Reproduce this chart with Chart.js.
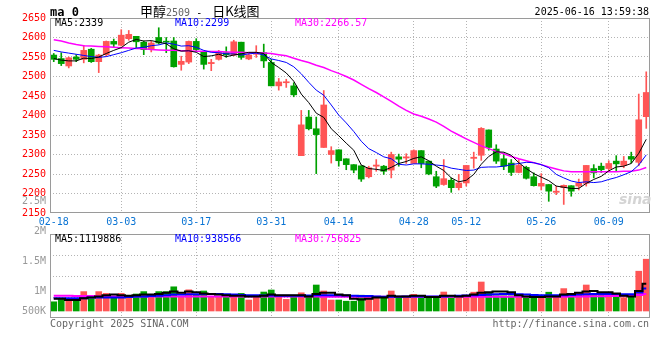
<!DOCTYPE html>
<html><head><meta charset="utf-8">
<script src="https://cdn.jsdelivr.net/npm/chart.js@4.4.1/dist/chart.umd.min.js"></script>
<style>
html,body{margin:0;padding:0;background:#fff;}
#wrap{position:relative;width:660px;height:360px;overflow:hidden;background:#fff;}
canvas{position:absolute;left:0;top:0;}
.t{position:absolute;white-space:nowrap;font:10px "DejaVu Sans Mono",monospace;line-height:12px;color:#000;}
.cjk{font-family:"Noto Sans CJK SC",sans-serif;font-size:13px;}
</style></head><body>
<div id="wrap">
<canvas id="vol" width="660" height="360"></canvas>
<canvas id="price" width="660" height="232"></canvas>
<div class="t" style="left:50px;top:5px;font-weight:bold;font-size:12px;line-height:14px">ma 0</div>
<div class="t" style="left:140px;top:2px;line-height:17px"><span class="cjk">甲醇</span><span style="color:#666">2509</span><span> - </span><span class="cjk" style="margin-left:4px">日K线图</span></div>
<div class="t" style="right:11px;top:6px">2025-06-16 13:59:38</div>
<div class="t" id="pma5" style="left:55px;top:17px;color:#000"></div>
<div class="t" id="pma10" style="left:175px;top:17px;color:#0000ff"></div>
<div class="t" id="pma30" style="left:295px;top:17px;color:#ff00ff"></div>
<div class="t" id="vma5" style="left:55px;top:233px;color:#000"></div>
<div class="t" id="vma10" style="left:175px;top:233px;color:#0000ff"></div>
<div class="t" id="vma30" style="left:295px;top:233px;color:#ff00ff"></div>
<div class="t" style="left:619px;top:191px;font:italic bold 14px 'DejaVu Sans',sans-serif;color:#d4d4d4">sina</div>
<div class="t" style="left:50px;top:318px;color:#666">Copyright 2025 SINA.COM</div>
<div class="t" style="right:11px;top:318px;color:#666">http://finance.sina.com.cn</div>
</div>
<script>
const dates = ['02-18','02-19','02-20','02-21','02-24','02-25','02-26','02-27','02-28',
'03-03','03-04','03-05','03-06','03-07','03-10','03-11','03-12','03-13','03-14','03-17','03-18','03-19','03-20','03-21','03-24','03-25','03-26','03-27','03-28','03-31',
'04-01','04-02','04-03','04-07','04-08','04-09','04-10','04-11','04-14','04-15','04-16','04-17','04-18','04-21','04-22','04-23','04-24','04-25','04-28','04-29','04-30',
'05-06','05-07','05-08','05-09','05-12','05-13','05-14','05-15','05-16','05-19','05-20','05-21','05-22','05-23','05-26','05-27','05-28','05-29','05-30',
'06-03','06-04','06-05','06-06','06-09','06-10','06-11','06-12','06-13','06-16'];
const opens = [2555,2546,2527,2550,2544,2570,2538,2556,2590,2580,2597,2603,2588,2569,2600,2589,2591,2531,2537,2590,
2562,2533,2544,2561,2555,2588,2545,2557,2561,2536,2476,2484,2476,2297,2396,2366,2318,2300,2312,2289,
2274,2271,2243,2270,2270,2260,2294,2291,2277,2310,2283,2243,2223,2234,2215,2227,2290,2298,2363,2314,
2289,2278,2254,2267,2243,2219,2223,2203,2215,2220,2219,2226,2264,2270,2264,2283,2272,2295,2280,2397];
const highs = [2559,2561,2550,2556,2580,2572,2557,2591,2596,2620,2618,2603,2591,2591,2625,2600,2600,2552,2591,2597,
2562,2544,2567,2576,2593,2588,2562,2579,2583,2544,2495,2493,2484,2413,2413,2396,2464,2320,2312,2289,
2274,2271,2270,2287,2272,2306,2301,2302,2312,2310,2283,2257,2287,2240,2249,2272,2306,2369,2363,2325,
2304,2287,2287,2270,2253,2251,2223,2219,2222,2220,2237,2272,2274,2278,2284,2297,2295,2306,2455,2512];
const lows = [2538,2528,2522,2538,2535,2536,2510,2552,2576,2578,2593,2574,2556,2563,2583,2561,2524,2516,2533,2565,
2519,2515,2542,2549,2553,2544,2543,2549,2523,2476,2465,2472,2448,2297,2363,2251,2318,2278,2270,2261,
2253,2231,2240,2257,2249,2240,2270,2277,2277,2266,2248,2215,2221,2203,2209,2219,2265,2285,2311,2277,
2261,2246,2253,2237,2219,2209,2180,2197,2172,2193,2209,2219,2240,2254,2257,2257,2266,2278,2271,2367];
const closes = [2544,2533,2548,2544,2567,2538,2555,2590,2583,2606,2608,2589,2569,2586,2586,2588,2525,2539,2590,2569,
2531,2536,2561,2556,2589,2549,2555,2560,2540,2476,2486,2485,2453,2376,2366,2351,2427,2310,2284,2274,
2260,2237,2266,2273,2257,2300,2288,2294,2310,2277,2250,2219,2238,2215,2227,2272,2293,2367,2318,2283,
2270,2254,2272,2239,2220,2226,2206,2206,2221,2206,2227,2272,2253,2261,2277,2276,2283,2288,2389,2459];
const ma5 = [2546,2542,2540,2540,2547,2546,2550,2559,2567,2574,2588,2595,2591,2592,2588,2584,2571,2565,2566,2562,
2551,2553,2557,2551,2555,2558,2562,2562,2559,2536,2523,2509,2488,2455,2433,2406,2395,2366,2348,2329,
2311,2273,2264,2262,2259,2267,2277,2282,2290,2294,2284,2270,2259,2240,2230,2234,2249,2275,2295,2307,
2306,2298,2279,2264,2251,2242,2233,2219,2216,2213,2213,2226,2236,2244,2258,2268,2270,2277,2303,2339];
const ma10 = [2567,2563,2560,2557,2554,2551,2549,2551,2556,2561,2567,2573,2575,2579,2581,2586,2583,2578,2579,2575,
2567,2562,2561,2558,2558,2555,2558,2560,2555,2545,2541,2536,2525,2507,2485,2465,2452,2427,2401,2381,
2359,2334,2315,2305,2294,2289,2275,2273,2276,2276,2275,2273,2271,2265,2262,2259,2260,2267,2268,2268,
2270,2274,2277,2280,2279,2274,2266,2249,2240,2232,2228,2230,2228,2230,2236,2241,2248,2256,2273,2299];
const ma30 = [2594,2591,2586,2582,2579,2578,2577,2576,2575,2574,2573,2572,2571,2569,2568,2567,2567,2566,2566,2565,
2565,2564,2564,2563,2562,2562,2561,2561,2560,2559,2556,2553,2547,2541,2536,2529,2523,2515,2508,2500,
2491,2480,2469,2459,2448,2436,2424,2413,2404,2398,2391,2383,2372,2360,2350,2340,2331,2322,2315,2308,
2302,2295,2289,2284,2279,2274,2268,2263,2258,2256,2256,2256,2256,2256,2256,2256,2257,2257,2260,2266.57];
const volumes = [820000,870000,850000,850000,990000,870000,990000,960000,880000,960000,
905000,950000,990000,905000,990000,990000,1070000,905000,1020000,930000,
1000000,905000,905000,905000,905000,960000,850000,905000,983000,1017000,
905000,860000,905000,970000,905000,1100000,1000000,850000,850000,830000,
830000,930000,890000,890000,890000,1000000,890000,890000,945000,890000,
890000,890000,983000,920000,890000,930000,980000,1150000,980000,920000,
920000,920000,920000,890000,890000,890000,980000,900000,1040000,945000,
970000,1100000,945000,945000,920000,920000,890000,900000,1330000,1530000];
const volMa5 = [870000,870000,850000,850000,880000,890000,910000,930000,940000,930000,
920000,930000,940000,940000,950000,970000,990000,970000,990000,980000,
960000,950000,940000,930000,920000,920000,910000,910000,920000,940000,
930000,930000,930000,930000,910000,950000,970000,970000,940000,930000,
870000,860000,870000,890000,890000,920000,910000,910000,920000,920000,
900000,900000,920000,920000,910000,920000,940000,970000,980000,990000,
990000,980000,930000,910000,900000,900000,910000,910000,940000,950000,
970000,990000,1000000,980000,980000,960000,920000,910000,1000000,1119886];
const volMa10 = [880000,880000,880000,880000,880000,890000,890000,890000,890000,890000,
900000,910000,910000,915000,920000,930000,940000,940000,945000,945000,
950000,950000,950000,945000,940000,935000,930000,930000,925000,925000,
920000,920000,920000,920000,925000,930000,930000,930000,930000,925000,
920000,915000,915000,910000,905000,905000,905000,910000,910000,910000,
910000,910000,910000,915000,920000,925000,930000,935000,940000,945000,
950000,950000,945000,940000,935000,930000,930000,930000,930000,935000,
940000,945000,950000,950000,950000,950000,945000,945000,975000,1040000];
const volMa30 = [920000,920000,920000,918000,915000,915000,912000,910000,910000,910000,
910000,910000,910000,910000,910000,910000,910000,910000,910000,910000,
910000,910000,910000,910000,910000,910000,910000,910000,910000,910000,
910000,910000,910000,908000,908000,908000,906000,906000,905000,905000,
905000,905000,905000,905000,905000,905000,905000,905000,905000,905000,
905000,905000,905000,905000,905000,905000,905000,905000,905000,905000,
905000,905000,905000,905000,905000,905000,905000,905000,906000,908000,
910000,910000,912000,912000,915000,918000,920000,922000,935000,950000];
const dateTickLabels = ['02-18','03-03','03-17','03-31','04-14','04-28','05-12','05-26','06-09'];
const priceMin = 2150, priceMax = 2650, priceStep = 50;
const volTickValues = [2500000,2000000,1500000,1000000,500000];
const volTickLabels = ['2.5M','2M','1.5M','1M','500K'];
const maTexts = {pma5:'MA5:2339', pma10:'MA10:2299', pma30:'MA30:2266.57',
                 vma5:'MA5:1119886', vma10:'MA10:938566', vma30:'MA30:756825'};
for (const k in maTexts) document.getElementById(k).textContent = maTexts[k];

const UP = '#ff5555', DOWN = '#00a000', GRID = '#b4b4b4', FRAME = '#9a9a9a', CLEAR = 'rgba(0,0,0,0)';
const MONO = '"DejaVu Sans Mono", monospace';
const candleColors = closes.map((c, i) => c >= opens[i] ? UP : DOWN);
const showDate = i => dateTickLabels.includes(dates[i]);

const framePlugin = {
  id: 'frame',
  afterDraw(chart) {
    const a = chart.chartArea, ctx = chart.ctx;
    ctx.save();
    ctx.strokeStyle = FRAME; ctx.lineWidth = 1;
    ctx.strokeRect(a.left + 0.5, a.top + 0.5, a.right - a.left - 1, a.bottom - a.top - 1);
    ctx.restore();
  }
};

const xGrid = {
  offset: false, drawTicks: false,
  color: ctx => (ctx.index > 0 && showDate(ctx.index)) ? GRID : CLEAR,
  lineWidth: 1
};

new Chart(document.getElementById('price'), {
  type: 'bar',
  data: {
    labels: dates,
    datasets: [
      {type: 'line', data: ma5, borderColor: '#000', borderWidth: 1, pointRadius: 0, tension: 0, order: 0},
      {type: 'line', data: ma10, borderColor: '#0000ff', borderWidth: 1, pointRadius: 0, tension: 0, order: 0},
      {type: 'line', data: ma30, borderColor: '#ff00ff', borderWidth: 1.5, pointRadius: 0, tension: 0, order: 0},
      {data: opens.map((o, i) => [o, closes[i]]), backgroundColor: candleColors, barThickness: 6, minBarLength: 1, grouped: false, order: 1},
      {data: lows.map((l, i) => [l, highs[i]]), backgroundColor: candleColors, barThickness: 1, grouped: false, order: 2}
    ]
  },
  options: {
    responsive: false, animation: false, devicePixelRatio: 1,
    layout: {padding: {top: 18, right: 10, left: 0, bottom: 0}},
    plugins: {legend: {display: false}, tooltip: {enabled: false}},
    scales: {
      x: {
        offset: true,
        grid: xGrid,
        border: {display: false, dash: [1, 2]},
        ticks: {autoSkip: false, maxRotation: 0, minRotation: 0, padding: 3, color: '#0a74d4',
                font: {family: MONO, size: 10},
                callback: (v, i) => showDate(i) ? dates[i] : ''},
        afterFit: s => { s.height = 19; }
      },
      y: {
        min: priceMin, max: priceMax,
        grid: {drawTicks: false, color: ctx => (ctx.tick && ctx.tick.value > priceMin && ctx.tick.value < priceMax) ? GRID : CLEAR},
        border: {display: false, dash: [1, 2]},
        ticks: {stepSize: priceStep, padding: 4, color: '#ff0000', font: {family: MONO, size: 10},
                callback: v => String(v)},
        afterFit: s => { s.width = 50; }
      }
    }
  },
  plugins: [framePlugin]
});

const VOL_BASE = 666667;
const volLabelPlugin = {
  id: 'volLabels',
  afterDraw(chart) {
    const y = chart.scales.y, ctx = chart.ctx;
    const basePx = y.getPixelForValue(VOL_BASE);
    ctx.save();
    ctx.font = '10px ' + MONO; ctx.fillStyle = '#999'; ctx.textAlign = 'right'; ctx.textBaseline = 'middle';
    volTickValues.forEach((v, i) => ctx.fillText(volTickLabels[i], y.right - 4, Math.min(y.getPixelForValue(v), basePx)));
    ctx.restore();
  }
};

new Chart(document.getElementById('vol'), {
  type: 'bar',
  data: {
    labels: dates,
    datasets: [
      {type: 'line', data: volMa5, borderColor: '#000', borderWidth: 2, pointRadius: 0, stepped: 'middle', order: 0},
      {type: 'line', data: volMa10, borderColor: '#0000ff', borderWidth: 2, pointRadius: 0, stepped: 'middle', order: 0},
      {type: 'line', data: volMa30, borderColor: '#ff00ff', borderWidth: 2, pointRadius: 0, stepped: 'middle', order: 0},
      {data: volumes, base: VOL_BASE, backgroundColor: candleColors, barThickness: 6, grouped: false, order: 1}
    ]
  },
  options: {
    responsive: false, animation: false, devicePixelRatio: 1,
    layout: {padding: {top: 234, right: 10, left: 0, bottom: 42}},
    plugins: {legend: {display: false}, tooltip: {enabled: false}},
    scales: {
      x: {
        offset: true,
        grid: xGrid,
        border: {display: false, dash: [1, 2]},
        ticks: {display: false},
        afterFit: s => { s.height = 0; }
      },
      y: {
        min: 550000, max: 1950000,
        grid: {drawTicks: false, color: ctx => (ctx.index > 0 && ctx.index < 4) ? GRID : CLEAR},
        border: {display: false, dash: [1, 2]},
        ticks: {count: 5, display: false},
        afterFit: s => { s.width = 50; }
      }
    }
  },
  plugins: [framePlugin, volLabelPlugin]
});
</script>
</body></html>
